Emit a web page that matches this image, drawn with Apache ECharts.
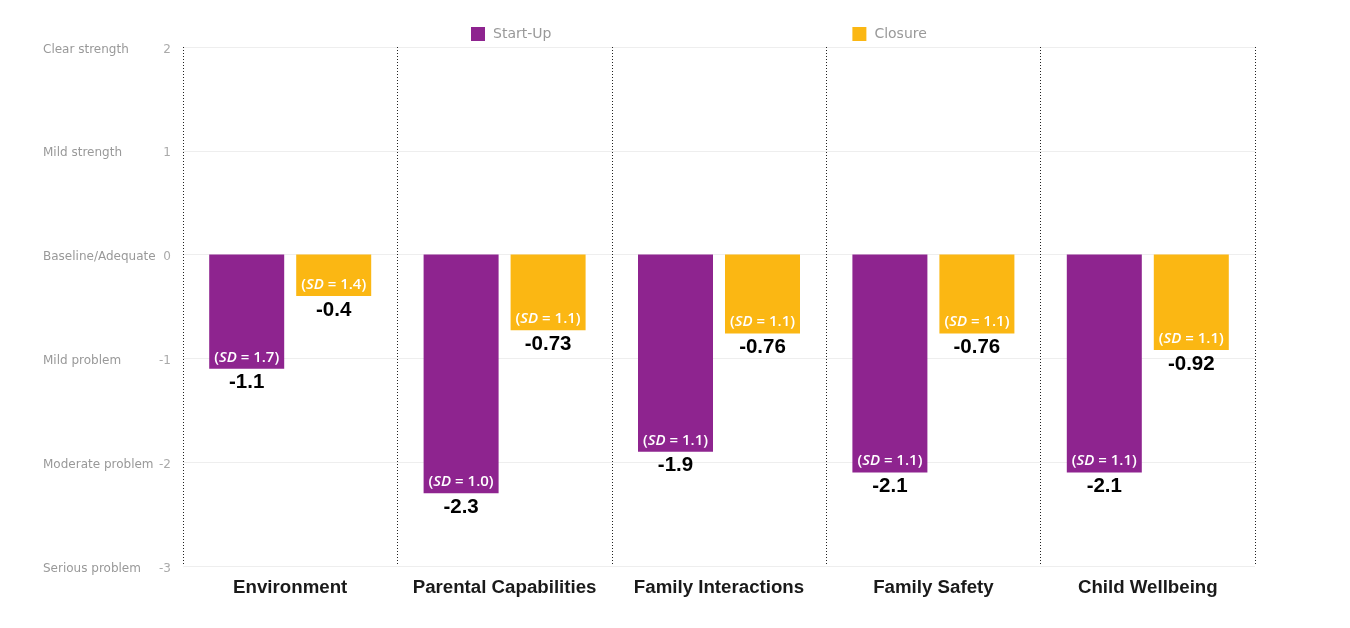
<!DOCTYPE html>
<html><head><meta charset="utf-8">
<script src="https://cdn.jsdelivr.net/npm/echarts@6/dist/echarts.min.js"></script>
<style>html,body{margin:0;padding:0;background:#fff}#c{width:1350px;height:628px}</style>
</head><body><div id="c"></div>
<script>
const categories = ['Environment','Parental Capabilities','Family Interactions','Family Safety','Child Wellbeing'];
const startUp = [-1.1,-2.3,-1.9,-2.1,-2.1];
const closure = [-0.4,-0.73,-0.76,-0.76,-0.92];
const sdStartUp = [1.7,1.0,1.1,1.1,1.1];
const sdClosure = [1.4,1.1,1.1,1.1,1.1];
const yTickValues = [2,1,0,-1,-2,-3];
const yTickNames = ['Clear strength','Mild strength','Baseline/Adequate','Mild problem','Moderate problem','Serious problem'];

const chart = echarts.init(document.getElementById('c'));
function mkLabel(sd){
  return {
    show:true, position:'bottom', distance:0, offset:[0,-23],
    formatter: p => '{p|(}{i|SD}{p| = ' + sd[p.dataIndex].toFixed(1) + ')}\n{v|' + p.value + '}',
    rich:{
      p:{color:'#fff',fontFamily:'Open Sans',fontSize:15,lineHeight:23,fontWeight:600},
      i:{color:'#fff',fontFamily:'Open Sans',fontSize:15,lineHeight:23,fontStyle:'italic',fontWeight:600},
      v:{color:'#000',fontFamily:'Liberation Sans',fontSize:20.5,fontWeight:'bold',lineHeight:28}
    }
  };
}
chart.setOption({
  animation:false,
  legend:{
    left:466, top:22, itemWidth:14, itemHeight:14, itemGap:301, icon:'rect',
    textStyle:{color:'#999',fontFamily:'DejaVu Sans',fontSize:14,padding:[0,0,0,3]}
  },
  grid:{left:183,right:95,top:47,bottom:62},
  xAxis:{
    type:'category', data:categories,
    axisLine:{show:false,onZero:false}, axisTick:{show:false},
    axisLabel:{interval:0,color:'#1a1a1a',fontFamily:'Liberation Sans',fontWeight:'bold',fontSize:18.7,margin:12},
    splitLine:{show:true,interval:0,lineStyle:{type:[1,2],color:'#222',width:1}}
  },
  yAxis:{
    type:'value', min:-3, max:2, interval:1,
    axisLine:{show:false}, axisTick:{show:false},
    splitLine:{lineStyle:{color:'#eeeeee'}},
    axisLabel:{
      margin:12, padding:[5,0,0,0],
      formatter: v => {
        const i = yTickValues.indexOf(v);
        return '{a|' + (i>=0?yTickNames[i]:'') + '}{b|' + v + '}';
      },
      rich:{
        a:{color:'#999',fontFamily:'DejaVu Sans',fontSize:12,width:112,align:'left'},
        b:{color:'#aaa',fontFamily:'DejaVu Sans',fontSize:12,width:16,align:'right'}
      }
    }
  },
  series:[
    {name:'Start-Up',type:'bar',data:startUp,barWidth:75,barGap:'16%',itemStyle:{color:'#8e248f'},label:mkLabel(sdStartUp)},
    {name:'Closure',type:'bar',data:closure,barWidth:75,itemStyle:{color:'#fbb713'},label:mkLabel(sdClosure)}
  ]
});
</script></body></html>
